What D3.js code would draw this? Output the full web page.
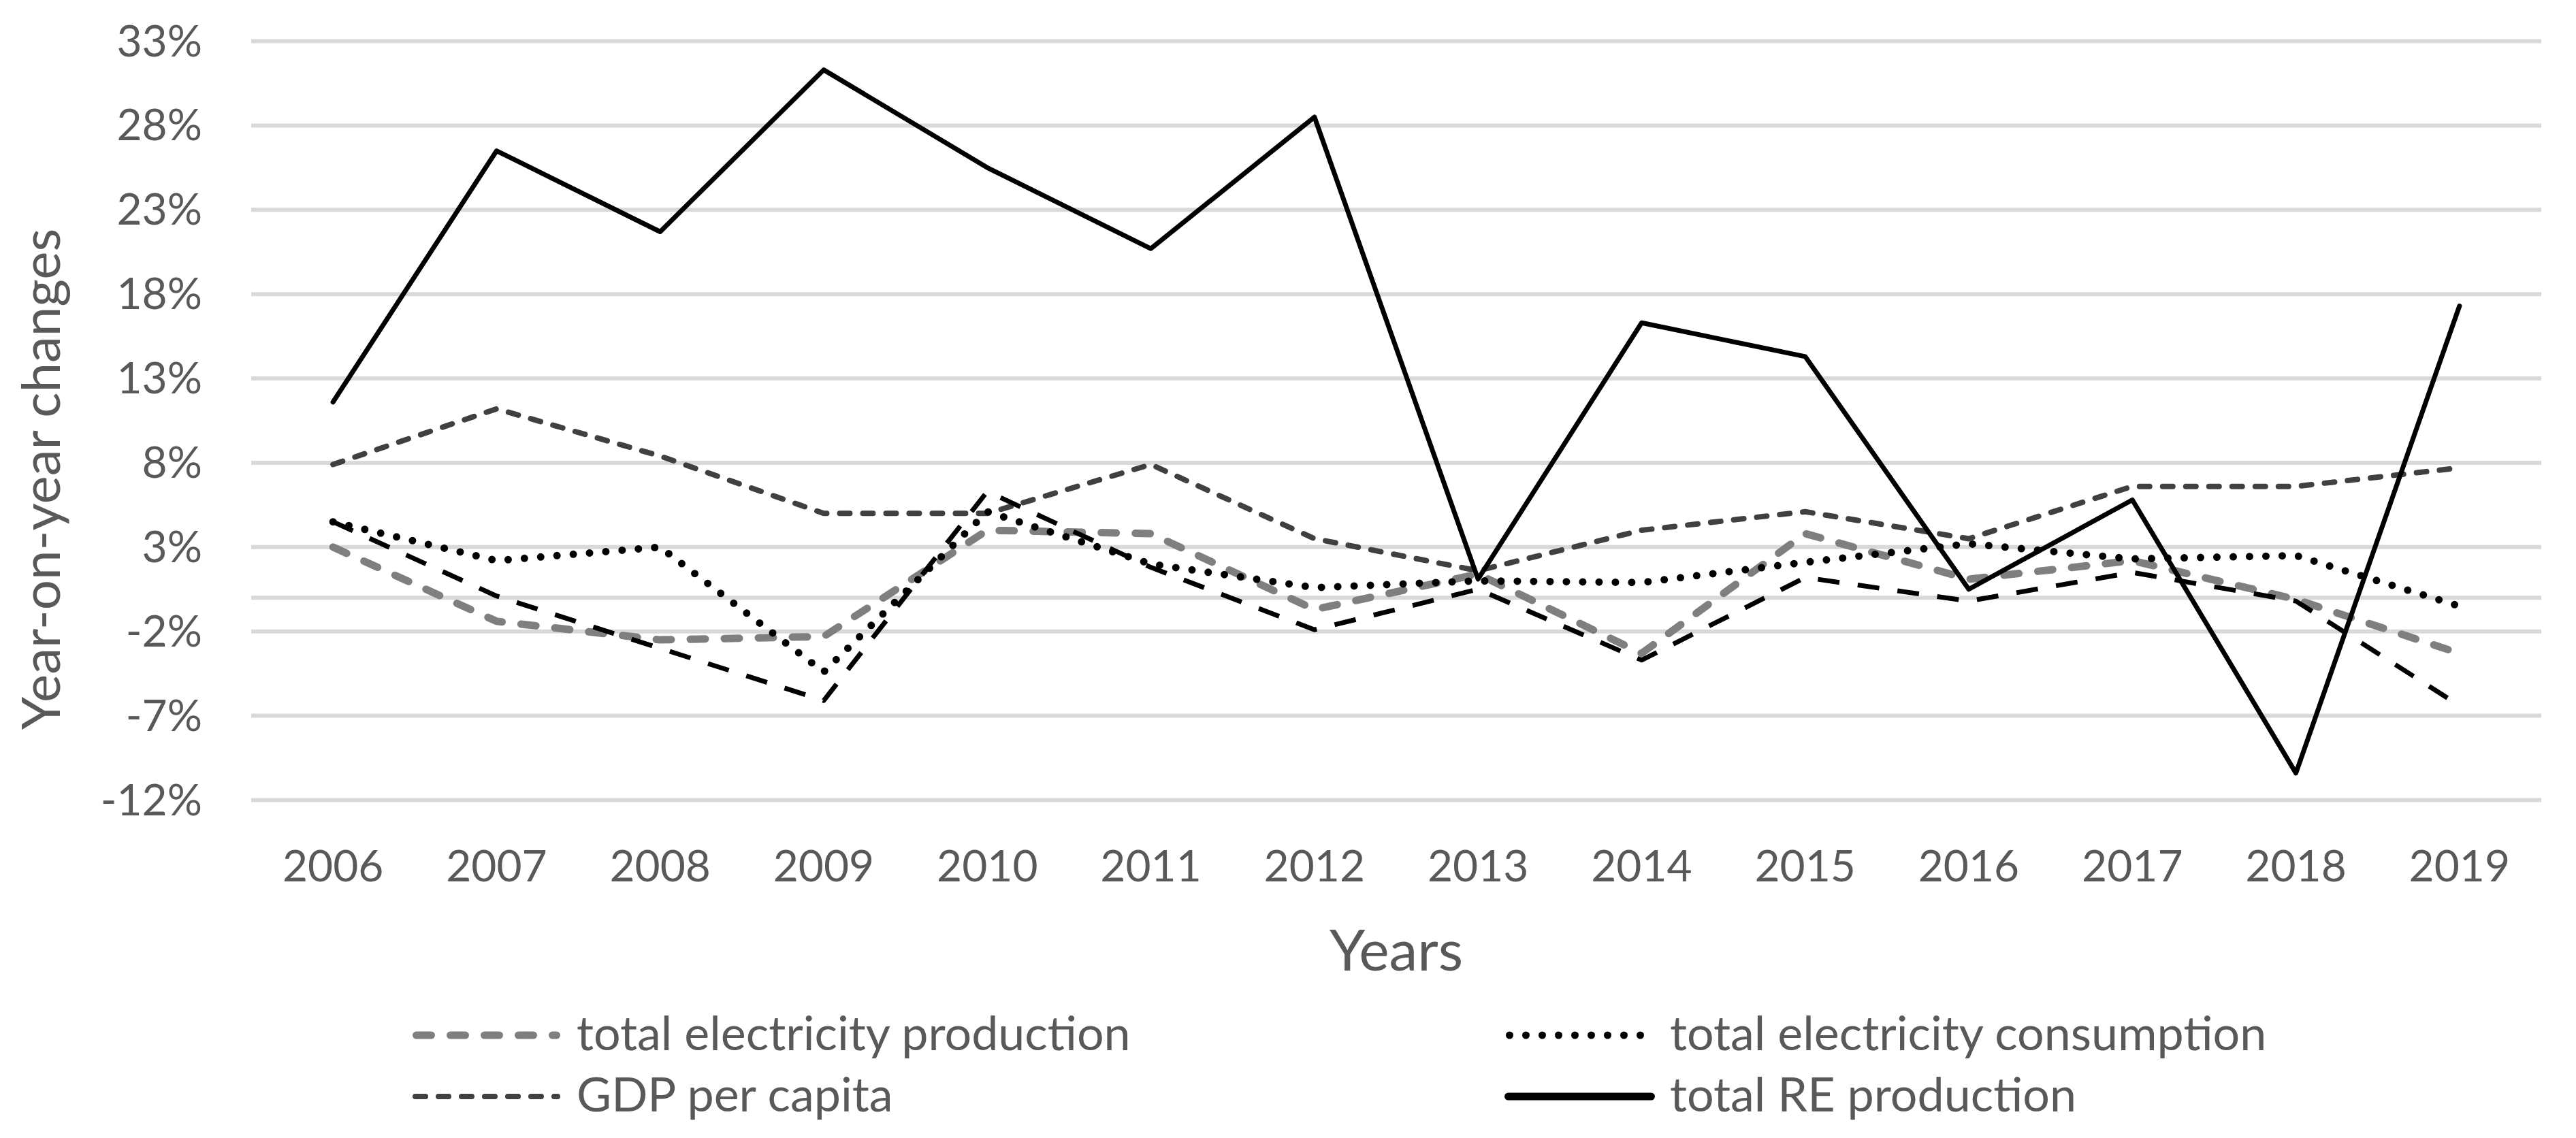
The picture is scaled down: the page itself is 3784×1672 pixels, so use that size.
<!DOCTYPE html>
<html>
<head>
<meta charset="utf-8">
<script src="https://cdn.jsdelivr.net/npm/d3@7"></script>
<style>
    html, body { margin: 0; padding: 0; background: #ffffff; }
    svg text { font-family: Lato, "Open Sans", sans-serif; fill: #595959; }
</style>
</head>
<body>
<div id="chart"></div>
<script>
// categories and series (year-on-year changes, %)
var years = [2006, 2007, 2008, 2009, 2010, 2011, 2012, 2013, 2014, 2015, 2016, 2017, 2018, 2019];
var elecProduction = [3.0, -1.4, -2.5, -2.3, 4.0, 3.8, -0.7, 1.4, -3.3, 3.8, 1.1, 2.2, -0.1, -3.3];
var elecConsumption = [4.5, 2.2, 3.0, -4.4, 5.1, 2.0, 0.6, 1.0, 0.9, 2.1, 3.2, 2.3, 2.5, -0.5];
var gdpPerCapita = [7.9, 11.2, 8.4, 5.0, 5.0, 7.9, 3.5, 1.6, 4.0, 5.1, 3.5, 6.6, 6.6, 7.7];
var otherSeries = [4.5, 0.1, -3.0, -6.1, 6.3, 1.8, -1.9, 0.5, -3.7, 1.2, -0.2, 1.5, -0.2, -6.4];
var reProduction = [11.6, 26.5, 21.7, 31.3, 25.5, 20.7, 28.5, 1.1, 16.3, 14.3, 0.5, 5.8, -10.4, 17.3];
var yTicks = [-12, -7, -2, 3, 8, 13, 18, 23, 28, 33];

var svgWidth = 3784;
var svgHeight = 1672;

var plot = {
    left: 369,
    right: 3733,
    top: 60.5,
    bottom: 1175.5
};

var svg = d3.select("#chart")
    .append("svg")
    .attr("width", svgWidth)
    .attr("height", svgHeight);

var xScale = d3.scalePoint()
    .domain(years)
    .range([plot.left, plot.right])
    .padding(0.5);

var yScale = d3.scaleLinear()
    .domain([-12, 33])
    .range([plot.bottom, plot.top]);

// gridlines
svg.append("g")
    .selectAll("line")
    .data(yTicks)
    .enter()
    .append("line")
    .attr("x1", plot.left)
    .attr("x2", plot.right)
    .attr("y1", d => yScale(d))
    .attr("y2", d => yScale(d))
    .attr("stroke", "#d9d9d9")
    .attr("stroke-width", 6);

// horizontal axis line at 0
svg.append("line")
    .attr("x1", plot.left)
    .attr("x2", plot.right)
    .attr("y1", yScale(0))
    .attr("y2", yScale(0))
    .attr("stroke", "#d9d9d9")
    .attr("stroke-width", 6);

// y tick labels
svg.append("g")
    .selectAll("text")
    .data(yTicks)
    .enter()
    .append("text")
    .attr("x", 297)
    .attr("y", d => yScale(d) + 22)
    .attr("text-anchor", "end")
    .style("font-size", "64px")
    .text(d => d + "%");

// x tick labels
svg.append("g")
    .selectAll("text")
    .data(years)
    .enter()
    .append("text")
    .attr("x", d => xScale(d))
    .attr("y", 1295)
    .attr("text-anchor", "middle")
    .style("font-size", "64px")
    .text(d => d);

// axis titles
svg.append("text")
    .attr("transform", "translate(88, 704) rotate(-90)")
    .attr("text-anchor", "middle")
    .style("font-size", "78px")
    .text("Year-on-year changes");

svg.append("text")
    .attr("x", (plot.left + plot.right) / 2)
    .attr("y", 1426)
    .attr("text-anchor", "middle")
    .style("font-size", "84px")
    .text("Years");

// series styles
var series = [
    { name: "GDP per capita", values: gdpPerCapita, color: "#404040", width: 8, dash: "15,19", cap: "round" },
    { name: "total electricity production", values: elecProduction, color: "#7f7f7f", width: 11, dash: "22,28", cap: "round" },
    { name: "", values: otherSeries, color: "#000000", width: 7, dash: "32,27", cap: "butt" },
    { name: "total electricity consumption", values: elecConsumption, color: "#000000", width: 11, dash: "0,24", cap: "round" },
    { name: "total RE production", values: reProduction, color: "#000000", width: 7, dash: null, cap: "round" }
];

var line = d3.line()
    .x((d, i) => xScale(years[i]))
    .y(d => yScale(d));

series.forEach(function (s) {
    svg.append("path")
        .datum(s.values)
        .attr("d", line)
        .attr("fill", "none")
        .attr("stroke", s.color)
        .attr("stroke-width", s.width)
        .attr("stroke-linecap", s.cap)
        .attr("stroke-linejoin", "round")
        .attr("stroke-dasharray", s.dash);
});

// legend
var legendItems = [
    { s: series[1], x: 606, y: 1521 },
    { s: series[3], x: 2212, y: 1521 },
    { s: series[0], x: 606, y: 1611 },
    { s: series[4], x: 2212, y: 1611 }
];

legendItems.forEach(function (item) {
    svg.append("line")
        .attr("x1", item.x + item.s.width / 2)
        .attr("x2", item.x + 217 - item.s.width / 2)
        .attr("y1", item.y)
        .attr("y2", item.y)
        .attr("stroke", item.s.color)
        .attr("stroke-width", item.s.dash ? item.s.width : 11)
        .attr("stroke-linecap", item.s.cap)
        .attr("stroke-dasharray", item.s.dash);

    svg.append("text")
        .attr("x", item.x + 241)
        .attr("y", item.y + 22)
        .style("font-size", "70px")
        .text(item.s.name);
});
</script>
</body>
</html>
